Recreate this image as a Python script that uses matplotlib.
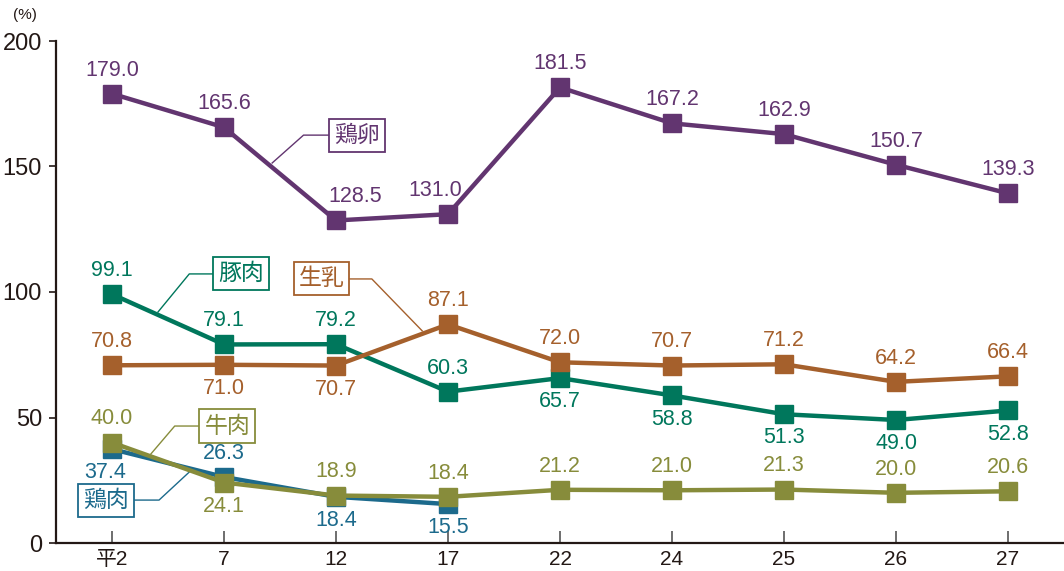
import matplotlib.pyplot as plt
import numpy as np

plt.rcParams['font.family'] = ['Liberation Sans', 'Noto Sans CJK JP', 'DejaVu Sans']

# x categories (年度)
years = ['平2', '7', '12', '17', '22', '24', '25', '26', '27']

# 自給率 (%)
egg = [179.0, 165.6, 128.5, 131.0, 181.5, 167.2, 162.9, 150.7, 139.3]
pork = [99.1, 79.1, 79.2, 60.3, 65.7, 58.8, 51.3, 49.0, 52.8]
milk = [70.8, 71.0, 70.7, 87.1, 72.0, 70.7, 71.2, 64.2, 66.4]
beef = [40.0, 24.1, 18.9, 18.4, 21.2, 21.0, 21.3, 20.0, 20.6]
chicken = [37.4, 26.3, 18.4, 15.5]

# label side: 1 above, -1 below
egg_pos = [1, 1, 1, 1, 1, 1, 1, 1, 1]
pork_pos = [1, 1, 1, 1, -1, -1, -1, -1, -1]
milk_pos = [1, -1, -1, 1, 1, 1, 1, 1, 1]
beef_pos = [1, -1, 1, 1, 1, 1, 1, 1, 1]
chicken_pos = [-1, 1, -1, -1]

c_egg = '#623570'
c_pork = '#00775C'
c_milk = '#A5602C'
c_beef = '#878C3B'
c_chicken = '#1C6A8C'

fig = plt.figure(figsize=(10.64, 5.71), dpi=100)
ax = fig.add_axes([56 / 1064, 28 / 571, 1 - 56 / 1064, (543 - 41) / 571])

x = np.arange(len(years))

series = [
    (chicken, chicken_pos, c_chicken),
    (beef, beef_pos, c_beef),
    (pork, pork_pos, c_pork),
    (milk, milk_pos, c_milk),
    (egg, egg_pos, c_egg),
]

# small sideways nudges (points) for crowded labels
nudge = {(c_egg, 2): 14, (c_egg, 3): -9, (c_chicken, 0): -5}

for vals, pos, col in series:
    xs = x[:len(vals)]
    ax.plot(xs, vals, color=col, lw=3.2, marker='s', ms=12.5, zorder=3)
    for i, (xi, v, p) in enumerate(zip(xs, vals, pos)):
        dx = nudge.get((col, i), 0)
        ax.annotate(f'{v:.1f}', (xi, v), xytext=(dx, 17 * p), textcoords='offset points',
                    ha='center', va='center', fontsize=15.5, color=col)

# callout labels with leader lines: (text, box center, corner, target, color)
callouts = [
    ('鶏卵', (2.19, 162.5), (1.71, 162.5), (1.43, 151.4), c_egg),
    ('豚肉', (1.15, 107.2), (0.69, 107.2), (0.41, 92.0), c_pork),
    ('生乳', (1.87, 105.2), (2.32, 105.2), (2.77, 84.5), c_milk),
    ('牛肉', (1.03, 46.6), (0.56, 46.6), (0.34, 35.1), c_beef),
    ('鶏肉', (-0.05, 17.1), (0.42, 17.1), (0.71, 29.1), c_chicken),
]
for txt, center, corner, target, col in callouts:
    ax.plot([center[0], corner[0], target[0]], [center[1], corner[1], target[1]],
            color=col, lw=1, zorder=2)
    ax.text(center[0], center[1], txt, ha='center', va='center', fontsize=16.5, color=col,
            zorder=5,
            bbox=dict(boxstyle='square,pad=0.22', fc='white', ec=col, lw=1.3))

ax.set_xlim(-0.5, 8.5)
ax.set_ylim(0, 200)
ax.set_xticks(x)
ax.set_xticklabels(years)
ax.set_yticks([0, 50, 100, 150, 200])

for s in ['top', 'right']:
    ax.spines[s].set_visible(False)
for s in ['left', 'bottom']:
    ax.spines[s].set_color('#231815')
    ax.spines[s].set_linewidth(1.6)

ax.tick_params(axis='y', direction='out', length=5, width=1.2, color='#231815',
               labelsize=17, labelcolor='#231815', pad=5)
ax.tick_params(axis='x', direction='in', length=9, width=1.2, color='#555555',
               labelsize=15, labelcolor='#231815', pad=5)

fig.text(25 / 1064, 1 - 15 / 571, '(%)', ha='center', va='center', fontsize=11, color='#231815')

fig.savefig('out.png', dpi=100)
